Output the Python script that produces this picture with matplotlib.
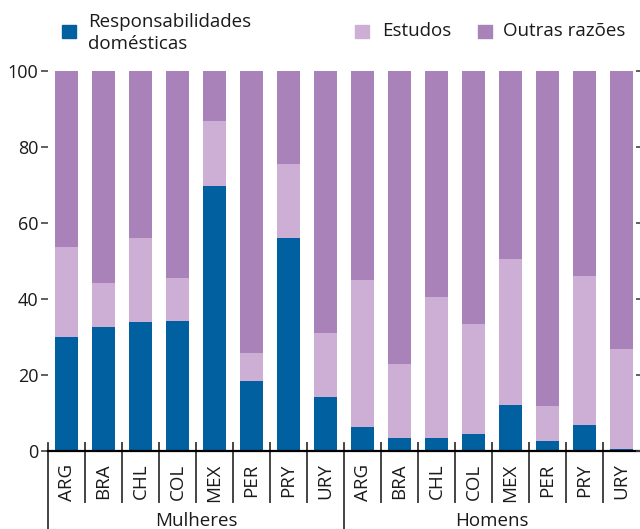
import numpy as np
import matplotlib
matplotlib.use("Agg")
from matplotlib import pyplot as plt
from matplotlib.patches import Rectangle
import matplotlib.transforms as mtransforms

plt.rcParams['font.family'] = ['Open Sans', 'DejaVu Sans']

countries = ["ARG", "BRA", "CHL", "COL", "MEX", "PER", "PRY", "URY"]
groups = ["Mulheres", "Homens"]

# share of each reason (%), women first then men
domesticas_mulheres = [30.0, 32.6, 34.0, 34.2, 69.7, 18.4, 56.0, 14.2]
estudos_mulheres = [23.7, 11.6, 22.0, 11.3, 17.1, 7.4, 19.5, 16.8]
domesticas_homens = [6.4, 3.4, 3.4, 4.6, 12.1, 2.6, 6.9, 0.6]
estudos_homens = [38.6, 19.5, 37.1, 28.8, 38.4, 9.2, 39.1, 26.2]

labels = ["Responsabilidades\ndomésticas", "Estudos", "Outras razões"]
colors = ["#0060a0", "#cdaed4", "#aa82ba"]

W, H = 640, 529


def px(x, y):
    # pixel position (from top-left) -> figure fraction
    return x / W, 1 - y / H


def main():
    dom = np.array(domesticas_mulheres + domesticas_homens)
    est = np.array(estudos_mulheres + estudos_homens)
    outras = 100 - dom - est
    x = np.arange(len(dom))

    fig = plt.figure(figsize=(W / 100, H / 100), dpi=100)
    ax = fig.add_axes([48 / W, 78 / H, 592 / W, 380 / H])

    ax.bar(x, dom, width=0.6, color=colors[0])
    ax.bar(x, est, width=0.6, bottom=dom, color=colors[1])
    ax.bar(x, outras, width=0.6, bottom=dom + est, color=colors[2])

    ax.set_xlim(-0.5, len(x) - 0.5)
    ax.set_ylim(0, 100)
    ax.set_yticks(np.arange(0, 101, 20))
    ax.tick_params(axis='y', length=5, width=1.2, color='#444444',
                   labelsize=13, pad=2, labelcolor='#1a1a1a')
    ax.set_xticks(x, countries * 2, rotation=90, fontsize=13.5)
    ax.tick_params(axis='x', length=0, pad=9, labelcolor='#1a1a1a')
    for lab in ax.get_xticklabels():
        lab.set_verticalalignment('top')

    for side in ['top', 'right', 'left']:
        ax.spines[side].set_visible(False)
    ax.spines['bottom'].set_linewidth(1.6)
    ax.spines['bottom'].set_color('black')

    # short ticks on the right edge
    ax2 = ax.twinx()
    ax2.set_ylim(0, 100)
    ax2.set_yticks(np.arange(0, 101, 20))
    ax2.tick_params(axis='y', direction='in', length=3, width=1.2,
                    color='#444444', labelright=False)
    for side in ax2.spines:
        ax2.spines[side].set_visible(False)

    # category and group separators under the axis
    trans = mtransforms.blended_transform_factory(ax.transData, ax.transAxes)
    n = len(countries)
    for i in range(len(x)):
        xpos = i - 0.5
        if i % n == 0:
            ax.plot([xpos, xpos], [0.021, -0.21], color='#222222', lw=1.2,
                    transform=trans, clip_on=False)
        else:
            ax.plot([xpos, xpos], [0.021, -0.134], color='#444444', lw=1.4,
                    transform=trans, clip_on=False)
    for g, name in enumerate(groups):
        ax.text(g * n + (n - 1) / 2, -0.184, name, transform=trans,
                ha='center', va='center', fontsize=13.5, color='#1a1a1a')

    # legend: swatch left edge and text left edge, in pixels
    swatch_x = [62, 355, 478]
    text_x = [88, 382, 503]
    for c, lab, sx, tx in zip(colors, labels, swatch_x, text_x):
        x0, y0 = px(sx, 38)
        fig.add_artist(Rectangle((x0, y0), 14 / W, 13 / H, color=c,
                                 transform=fig.transFigure))
        if "\n" in lab:
            fig.text(*px(tx, 33), lab, fontsize=13.5, color='#1a1a1a',
                     ha='left', va='center', linespacing=1.3)
        else:
            fig.text(*px(tx, 31), lab, fontsize=13.5, color='#1a1a1a',
                     ha='left', va='center')

    fig.savefig("out.png", dpi=100)


if __name__ == '__main__':
    main()
